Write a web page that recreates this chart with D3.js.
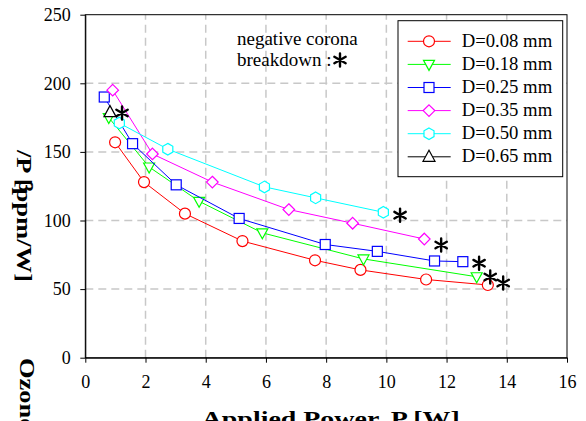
<!DOCTYPE html>
<html><head><meta charset="utf-8">
<script src="https://cdn.jsdelivr.net/npm/d3@7"></script>
<style>body{margin:0;background:#fff;} svg{display:block;} svg text{font-family:"Liberation Serif","Times New Roman","DejaVu Serif",serif;}</style>
</head><body>
<svg id="c" width="586" height="421"></svg>
<script>
const seriesNames = ["D=0.08 mm","D=0.18 mm","D=0.25 mm","D=0.35 mm","D=0.50 mm","D=0.65 mm"];
const seriesColors = ["#ff0000","#00ff00","#0000ff","#ff00ff","#00ffff","#000000"];
const seriesMarkers = ["circle","triDown","square","diamond","hexagon","triUp"];
const power008 = [0.99,1.95,3.31,5.22,7.63,9.14,11.32,13.37];
const ozone008 = [157,128,105,85,71,64,57,53];
const power018 = [0.78,2.12,3.78,5.88,9.24,13.0];
const ozone018 = [175,139,114,91,72,59];
const power025 = [0.63,1.57,3.02,5.11,7.97,9.70,11.6,12.54];
const ozone025 = [190,156,126,101.5,82.5,77.5,70.5,70];
const power035 = [0.91,2.23,4.22,6.76,8.88,11.26];
const ozone035 = [195,148.5,128,108,98,86.5];
const power050 = [1.13,2.74,5.95,7.65,9.9];
const ozone050 = [171,152,124.5,116.5,106];
const power065 = [0.82];
const ozone065 = [179];
const breakdownX = [13.88,13.45,13.08,11.82,10.455,1.22];
const breakdownY = [54.4,58.8,68.9,82.1,103.9,178.4];
const xTicks = [0,2,4,6,8,10,12,14,16];
const yTicks = [0,50,100,150,200,250];

const powers = [power008,power018,power025,power035,power050,power065];
const ozones = [ozone008,ozone018,ozone025,ozone035,ozone050,ozone065];

const svg = d3.select("#c");
const L = 85.3, R = 567, T = 14.7, B = 357.7;
const x = d3.scaleLinear().domain([0,16]).range([L,R]);
const y = d3.scaleLinear().domain([0,250]).range([B,T]);

// grid
const grid = svg.append("g").attr("stroke","#c8c8c8").attr("stroke-width",1.5).attr("stroke-dasharray","8,5");
xTicks.filter(v=>v>0&&v<16).forEach(v=>grid.append("line").attr("x1",x(v)).attr("x2",x(v)).attr("y1",B).attr("y2",T));
yTicks.filter(v=>v>0&&v<250).forEach(v=>grid.append("line").attr("y1",y(v)).attr("y2",y(v)).attr("x1",L).attr("x2",R));

// frame
svg.append("rect").attr("x",L).attr("y",T).attr("width",R-L).attr("height",B-T).attr("fill","none").attr("stroke","#000").attr("stroke-width",1);

// axes
const xAxis = svg.append("g").attr("transform",`translate(0,${B})`)
  .call(d3.axisBottom(x).tickValues(xTicks).tickSize(5).tickSizeOuter(0).tickPadding(13).tickFormat(d3.format("d")));
const yAxis = svg.append("g").attr("transform",`translate(${L},0)`)
  .call(d3.axisLeft(y).tickValues(yTicks).tickSize(5).tickSizeOuter(0).tickPadding(9.5).tickFormat(d3.format("d")));
[xAxis,yAxis].forEach(a=>{
  a.attr("font-family",null).attr("font-size",null);
  a.selectAll("text").style("font-size","18px").attr("fill","#000");
  a.selectAll("line").attr("stroke","#000");
  a.select(".domain").attr("stroke","#000");
});

function marker(g, type, cx, cy, color){
  let p;
  if(type==="circle") p = g.append("circle").attr("cx",cx).attr("cy",cy).attr("r",5.5);
  else if(type==="square") p = g.append("rect").attr("x",cx-5).attr("y",cy-5).attr("width",10).attr("height",10);
  else if(type==="diamond") p = g.append("path").attr("d",`M${cx},${cy-5.8}L${cx+5.8},${cy}L${cx},${cy+5.8}L${cx-5.8},${cy}Z`);
  else if(type==="triDown") p = g.append("path").attr("d",`M${cx-5.5},${cy-4}L${cx+5.5},${cy-4}L${cx},${cy+6}Z`);
  else if(type==="triUp") p = g.append("path").attr("d",`M${cx-6},${cy+4.5}L${cx+6},${cy+4.5}L${cx},${cy-6.5}Z`);
  else if(type==="hexagon"){
    const pts = d3.range(6).map(i=>{const a=Math.PI/3*i - Math.PI/2; return [cx+5.8*Math.cos(a), cy+5.8*Math.sin(a)];});
    p = g.append("path").attr("d","M"+pts.map(q=>q.join(",")).join("L")+"Z");
  }
  p.attr("fill","#fff").attr("stroke",color).attr("stroke-width",1.2);
}

// series
const line = d3.line().x(d=>x(d[0])).y(d=>y(d[1]));
seriesNames.forEach((name,i)=>{
  const pts = powers[i].map((v,j)=>[v,ozones[i][j]]);
  const g = svg.append("g");
  g.append("path").attr("d",line(pts)).attr("fill","none").attr("stroke",seriesColors[i]).attr("stroke-width",1);
  pts.forEach(d=>marker(g, seriesMarkers[i], x(d[0]), y(d[1]), seriesColors[i]));
});

// breakdown asterisks
const ast = d3.symbol().type(d3.symbolAsterisk).size(120);
function asterisk(cx,cy){
  svg.append("path").attr("d",ast()).attr("transform",`translate(${cx},${cy})`)
    .attr("fill","none").attr("stroke","#000").attr("stroke-width",2.4).attr("stroke-linecap","round");
}
breakdownX.forEach((v,i)=>asterisk(x(v), y(breakdownY[i])));

// annotation
svg.append("text").attr("x",237).attr("y",45).style("font-size","19px").text("negative corona");
svg.append("text").attr("x",237).attr("y",66).style("font-size","19px").text("breakdown :");
asterisk(340,60);

// legend
const lg = svg.append("g");
lg.append("rect").attr("x",398).attr("y",20.7).attr("width",164.7).attr("height",156).attr("fill","#fff").attr("stroke","#000").attr("stroke-width",1);
seriesNames.forEach((name,i)=>{
  const ry = 41.3 + i*23.1;
  lg.append("line").attr("x1",407.7).attr("x2",450.7).attr("y1",ry).attr("y2",ry).attr("stroke",seriesColors[i]).attr("stroke-width",1);
  marker(lg, seriesMarkers[i], 429, ry, seriesColors[i]);
  lg.append("text").attr("x",461.7).attr("y",ry+5.5).style("font-size","18.7px").text(name);
});

// axis titles
svg.append("text").attr("x",201.7).attr("y",426).style("font-weight","bold").style("font-size","21px")
  .attr("textLength",258).attr("lengthAdjust","spacingAndGlyphs").text("Applied Power, P [W]");
svg.append("text").attr("transform","translate(17,150) rotate(90)").style("font-weight","bold").style("font-size","22px")
  .attr("textLength",132).attr("lengthAdjust","spacingAndGlyphs").text("/P [ppm/W]");
svg.append("text").attr("transform","translate(19,182) rotate(90)").style("font-weight","bold").style("font-size","20px").text("3");
svg.append("text").attr("transform","translate(20,358) rotate(90)").style("font-weight","bold").style("font-size","20px")
  .attr("textLength",72).attr("lengthAdjust","spacingAndGlyphs").text("Ozone");
</script>
</body></html>
